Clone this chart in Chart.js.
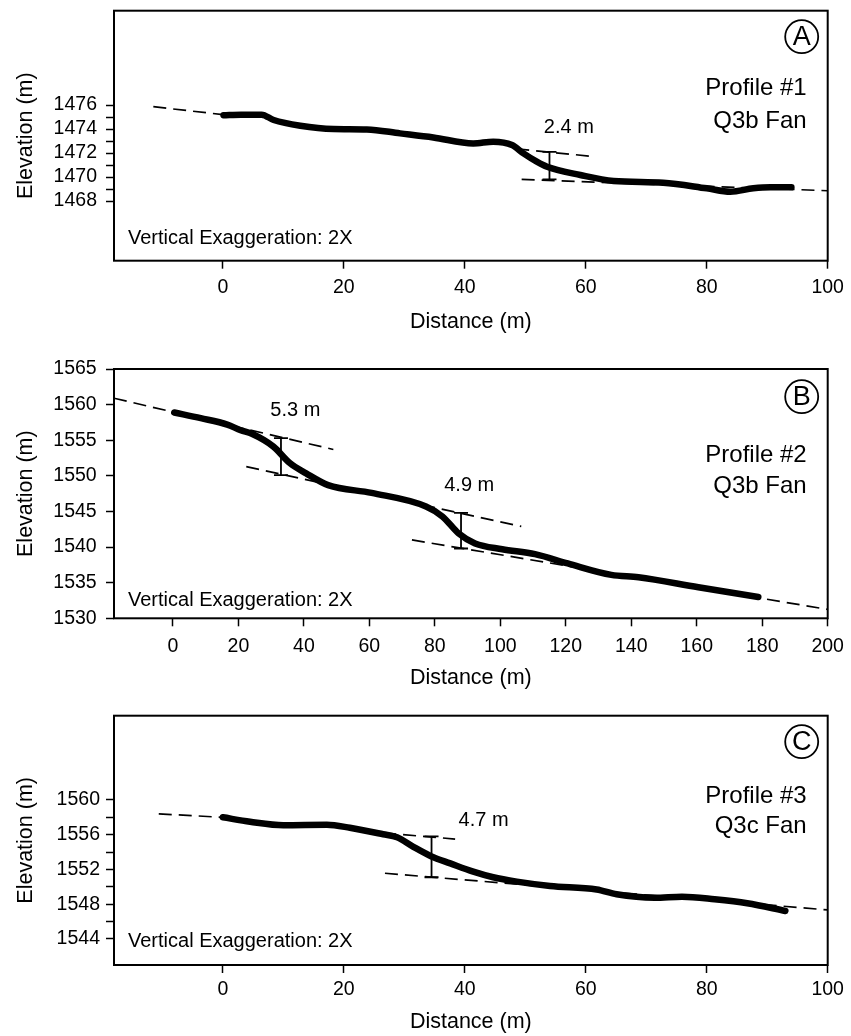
<!DOCTYPE html>
<html>
<head>
<meta charset="utf-8">
<script src="https://cdn.jsdelivr.net/npm/chart.js@4.4.1/dist/chart.umd.min.js"></script>
<style>
  body { margin: 0; background: #fff; }
  .panel { position: absolute; left: 0; width: 851px; }
</style>
</head>
<body>
<div class="panel" style="top:0;height:340px"><canvas id="perfilA"></canvas></div>
<div class="panel" style="top:340px;height:360px"><canvas id="perfilB"></canvas></div>
<div class="panel" style="top:700px;height:336px"><canvas id="perfilC"></canvas></div>
<script>
// PERFIL 1 - Q3b
const distanciaA = [0.1, 3, 6.4, 8.4, 12.8, 18.3, 23.8, 29.3, 34.8, 41.4, 44.7, 47.8, 49.7, 51.9, 53.6, 59.1, 64.6, 72.8, 80, 83.9, 87.7, 90.5, 94];
const elevacionA = [1475.15, 1475.2, 1475.2, 1474.75, 1474.27, 1474.0, 1473.97, 1473.64, 1473.3, 1472.8, 1472.95, 1472.67, 1471.97, 1471.28, 1470.86, 1470.17, 1469.67, 1469.53, 1469.06, 1468.78, 1469.06, 1469.15, 1469.14];
const regionalXA = [-11.5, 0];
const regionalYA = [1475.86, 1475.2];
const escarpeSupXA = [48.5, 61.5];
const escarpeSupYA = [1472.35, 1471.7];
const escarpeInfXA = [49.4, 100];
const escarpeInfYA = [1469.8, 1468.86];
const barraXA = [54, 54];
const barraYA = [1469.8, 1472.1];
const saltosA = ['2.4 m'];

// PERFIL 2 - Q3b
const distanciaB = [0.4, 8.5, 16.6, 20.7, 24.1, 30.7, 35.7, 40.7, 47.4, 60.7, 77.3, 82.3, 87.3, 92.3, 100.6, 110.6, 120.6, 133.9, 142.2, 160.5, 178.8];
const elevacionB = [1558.9, 1558.1, 1557.2, 1556.4, 1555.9, 1554.1, 1551.8, 1550.35, 1548.7, 1547.6, 1545.7, 1544.3, 1541.9, 1540.5, 1539.7, 1539.0, 1537.7, 1536.1, 1535.76, 1534.35, 1533.0];
const superiorXB = [-18, 49];
const superiorYB = [1560.9, 1553.7];
const medioXB = [22.4, 106.4];
const medioYB = [1551.3, 1542.9];
const inferiorXB = [73, 200];
const inferiorYB = [1541.0, 1531.25];
const barra1XB = [33, 33];
const barra1YB = [1550.1, 1555.3];
const barra2XB = [88, 88];
const barra2YB = [1539.8, 1544.8];
const saltosB = ['5.3 m', '4.9 m'];

// PERFIL 3 - Q3c
const distanciaC = [0, 4.5, 10.0, 17.2, 21.0, 26.5, 28.8, 31.5, 34.5, 37.6, 41.4, 44.7, 48.6, 54.1, 61.8, 65.1, 71.4, 75.9, 81.3, 86.7, 93.0];
const elevacionC = [1558.0, 1557.5, 1557.1, 1557.15, 1556.8, 1556.05, 1555.7, 1554.6, 1553.5, 1552.7, 1551.75, 1551.1, 1550.6, 1550.1, 1549.7, 1549.14, 1548.75, 1548.87, 1548.57, 1548.11, 1547.22];
const regionalXC = [-10.6, 0];
const regionalYC = [1558.4, 1558.0];
const escarpeSupXC = [26.5, 38.4];
const escarpeSupYC = [1556.2, 1555.5];
const escarpeInfXC = [26.8, 100];
const escarpeInfYC = [1551.56, 1547.34];
const barraXC = [34.5, 34.5];
const barraYC = [1551.1, 1555.8];
const saltosC = ['4.7 m'];

// TICKS DE LOS EJES
const ticksXA = [0, 20, 40, 60, 80, 100];
const ticksXB = [0, 20, 40, 60, 80, 100, 120, 140, 160, 180, 200];
const ticksYA = [1468, 1469, 1470, 1471, 1472, 1473, 1474, 1475, 1476];
const etiquetasYA = [1468, 1470, 1472, 1474, 1476];
const ticksYB = [1530, 1535, 1540, 1545, 1550, 1555, 1560, 1565];
const ticksYC = [1544, 1546, 1548, 1550, 1552, 1554, 1556, 1558, 1560];
const etiquetasYC = [1544, 1548, 1552, 1556, 1560];

const FUENTE = '"Liberation Sans", Arial, Helvetica, sans-serif';

// FUNCION QUE UNE DOS ARRAYS EN PUNTOS {x, y}
const puntos = (xs, ys) => xs.map((x, i) => ({ x, y: ys[i] }));

// DATASETS BASE
const perfil = (xs, ys) => ({
  data: puntos(xs, ys),
  showLine: true,
  borderColor: '#000',
  borderWidth: 6.5,
  borderCapStyle: 'round',
  borderJoinStyle: 'round',
  cubicInterpolationMode: 'monotone',
  pointRadius: 0
});

const discontinua = (xs, ys) => ({
  data: puntos(xs, ys),
  showLine: true,
  borderColor: '#000',
  borderWidth: 1.7,
  borderDash: [13, 7],
  pointRadius: 0
});

const barra = (xs, ys) => ({
  data: puntos(xs, ys),
  showLine: true,
  borderColor: '#000',
  borderWidth: 1.8,
  pointStyle: 'line',
  pointRadius: 7,
  pointBorderWidth: 1.8,
  pointBorderColor: '#000'
});

// PLUGIN QUE DIBUJA EL MARCO, LA LETRA Y LOS TEXTOS
const anotaciones = {
  id: 'anotaciones',
  afterDatasetsDraw(chart, args, opts) {
    const { ctx, chartArea: { left, top, right, bottom }, scales: { x, y } } = chart;
    ctx.save();
    ctx.strokeStyle = '#000';
    ctx.fillStyle = '#000';
    ctx.lineWidth = 2;
    ctx.strokeRect(left, top, right - left, bottom - top);

    // letra en circulo
    const cx = right - 26, cy = top + opts.letraY;
    ctx.lineWidth = 1.8;
    ctx.beginPath();
    ctx.arc(cx, cy, 16.5, 0, Math.PI * 2);
    ctx.stroke();
    ctx.font = `27px ${FUENTE}`;
    ctx.textAlign = 'center';
    ctx.textBaseline = 'middle';
    ctx.fillText(opts.letra, cx, cy + 1);

    // nombre del perfil
    ctx.font = `24px ${FUENTE}`;
    ctx.textAlign = 'right';
    ctx.fillText(opts.nombre, right - 21, top + opts.nombreY[0]);
    ctx.fillText(opts.abanico, right - 21, top + opts.nombreY[1]);

    // exageracion vertical
    ctx.font = `20px ${FUENTE}`;
    ctx.textAlign = 'left';
    ctx.fillText('Vertical Exaggeration: 2X', left + 14, bottom - opts.exagY);

    // altura de los escarpes
    ctx.font = `20px ${FUENTE}`;
    ctx.textAlign = 'center';
    opts.saltos.forEach((texto, i) => {
      const [px, py] = opts.posSaltos[i];
      ctx.fillText(texto, x.getPixelForValue(px), y.getPixelForValue(py));
    });
    ctx.restore();
  }
};

// FUNCION QUE CREA CADA GRAFICO
const crearGrafico = (p) => {
  const config = {
    type: 'scatter',
    data: { datasets: p.datasets },
    options: {
      responsive: true,
      maintainAspectRatio: false,
      animation: false,
      events: [],
      layout: { padding: { left: 0, top: p.arriba, right: 23.3, bottom: 0 } },
      plugins: {
        legend: { display: false },
        tooltip: { enabled: false },
        anotaciones: p.anotaciones
      },
      scales: {
        x: {
          type: 'linear',
          min: -18,
          max: p.xMax,
          afterBuildTicks: (eje) => { eje.ticks = p.ticksX.map((v) => ({ value: v })); },
          afterFit: (eje) => { eje.height = p.altoX; eje.paddingLeft = 0; eje.paddingRight = 0; },
          border: { display: false },
          grid: { drawOnChartArea: false, drawTicks: true, tickLength: 8, color: '#000', tickWidth: 1.5 },
          ticks: { color: '#000', font: { family: FUENTE, size: 19.5 }, padding: p.padTickX, maxRotation: 0, autoSkip: false },
          title: { display: true, text: 'Distance (m)', color: '#000', font: { family: FUENTE, size: 21.5 }, padding: { top: 0, bottom: p.padTituloX } }
        },
        y: {
          type: 'linear',
          min: p.yMin,
          max: p.yMax,
          afterBuildTicks: (eje) => { eje.ticks = p.ticksY.map((v) => ({ value: v })); },
          afterFit: (eje) => { eje.width = 114; eje.paddingTop = 0; eje.paddingBottom = 0; },
          border: { display: false },
          grid: { drawOnChartArea: false, drawTicks: true, tickLength: 8, color: '#000', tickWidth: 1.5 },
          ticks: {
            color: '#000',
            font: { family: FUENTE, size: 19.5 },
            padding: p.padTickY,
            autoSkip: false,
            callback: (valor) => (p.etiquetasY.includes(valor) ? String(valor) : '')
          },
          title: { display: true, text: 'Elevation (m)', color: '#000', font: { family: FUENTE, size: 21.5 }, padding: { top: 13, bottom: 0 } }
        }
      }
    },
    plugins: [anotaciones]
  };
  new Chart(document.getElementById(p.id), config);
};

crearGrafico({
  id: 'perfilA', xMax: 100, yMin: 1463.03, yMax: 1483.86,
  ticksX: ticksXA, ticksY: ticksYA, etiquetasY: etiquetasYA,
  arriba: 10.7, altoX: 79.3, padTickX: 7.3, padTituloX: 5.4, padTickY: 9,
  datasets: [
    perfil(distanciaA, elevacionA),
    barra(barraXA, barraYA),
    discontinua(regionalXA, regionalYA),
    discontinua(escarpeSupXA, escarpeSupYA),
    discontinua(escarpeInfXA, escarpeInfYA)
  ],
  anotaciones: {
    letra: 'A', letraY: 26, nombre: 'Profile #1', abanico: 'Q3b Fan', nombreY: [78, 111], exagY: 22.4,
    saltos: saltosA, posSaltos: [[57.2, 1474.1]]
  }
});

crearGrafico({
  id: 'perfilB', xMax: 200, yMin: 1530, yMax: 1565,
  ticksX: ticksXB, ticksY: ticksYB, etiquetasY: ticksYB,
  arriba: 29, altoX: 81.7, padTickX: 8.4, padTituloX: 9.1, padTickY: 9.3,
  datasets: [
    perfil(distanciaB, elevacionB),
    barra(barra1XB, barra1YB),
    barra(barra2XB, barra2YB),
    discontinua(superiorXB, superiorYB),
    discontinua(medioXB, medioYB),
    discontinua(inferiorXB, inferiorYB)
  ],
  anotaciones: {
    letra: 'B', letraY: 27.7, nombre: 'Profile #2', abanico: 'Q3b Fan', nombreY: [86, 117], exagY: 18.3,
    saltos: saltosB, posSaltos: [[37.4, 1559.2], [90.5, 1548.6]]
  }
});

crearGrafico({
  id: 'perfilC', xMax: 100, yMin: 1541.0, yMax: 1569.7,
  ticksX: ticksXA, ticksY: ticksYC, etiquetasY: etiquetasYC,
  arriba: 15.7, altoX: 71, padTickX: 5, padTituloX: 1.4, padTickY: 6,
  datasets: [
    perfil(distanciaC, elevacionC),
    barra(barraXC, barraYC),
    discontinua(regionalXC, regionalYC),
    discontinua(escarpeSupXC, escarpeSupYC),
    discontinua(escarpeInfXC, escarpeInfYC)
  ],
  anotaciones: {
    letra: 'C', letraY: 26, nombre: 'Profile #3', abanico: 'Q3c Fan', nombreY: [81, 111], exagY: 23.3,
    saltos: saltosC, posSaltos: [[43.1, 1557.6]]
  }
});
</script>
</body>
</html>
